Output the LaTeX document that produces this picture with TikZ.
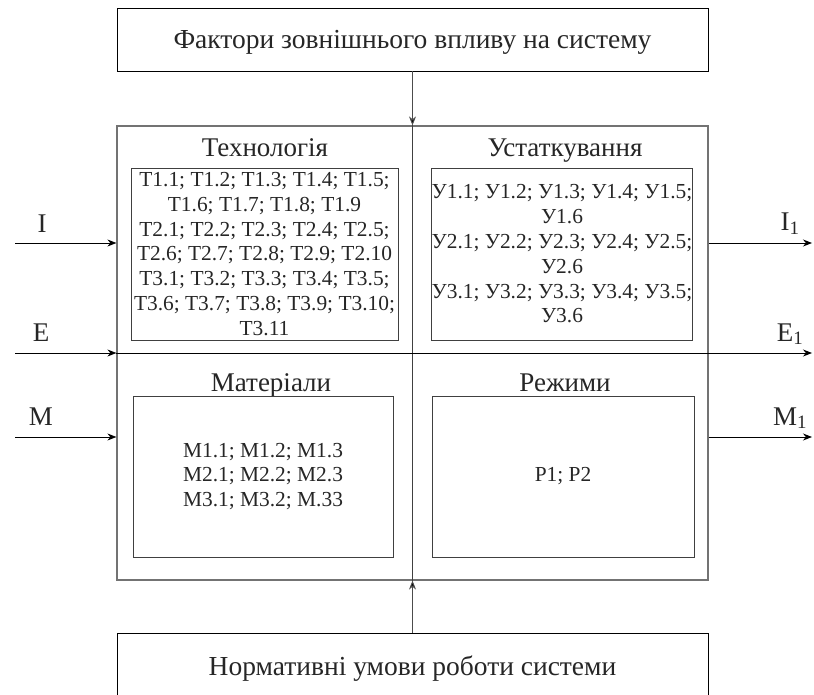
\documentclass[tikz,border=0pt]{standalone}
\usepackage{fontspec}
\setmainfont{Liberation Serif}
\usetikzlibrary{arrows.meta, positioning}

\begin{document}
\begin{tikzpicture}[x=1pt, y=-1pt, >={Stealth[length=9pt,width=7pt]}]
\tikzstyle{every node}+=[inner sep=0pt, text=black!85]
\tikzstyle{factor box}=[draw, line width=0.9pt, minimum width=591pt, minimum height=63pt]
\tikzstyle{factor text}=[anchor=base, font=\fontsize{27.5}{30}\selectfont]
\tikzstyle{item box}=[draw=black!75, line width=0.9pt, align=center, font=\fontsize{21.4}{24.8}\selectfont]
\tikzstyle{part title}=[anchor=base, font=\fontsize{27}{30}\selectfont]
\tikzstyle{flow label}=[anchor=base, font=\fontsize{27}{30}\selectfont]
\tikzstyle{flow}=[->, line width=0.9pt]
\useasboundingbox (0,0) rectangle (814,695);
\node[factor box] (zovn) at (412.5,39.5) {};
\node[factor text] (zovnt) at (412.5,49) {Фактори зовнішнього впливу на систему};
\node[factor box] (norm) at (412.5,665) {};
\node[factor text] (normt) at (412.5,675) {Нормативні умови роботи системи};
\node[draw=black!55, line width=1.2pt, minimum width=591pt, minimum height=454pt] (sys) at (412.5,353) {};
\draw[black!75, line width=0.9pt] (sys.north) -- (sys.south);
\draw[flow, black!70, -{Stealth[length=9pt,width=7pt,fill=black]}] (zovn.south) -- (sys.north);
\draw[flow, black!70, -{Stealth[length=9pt,width=7pt,fill=black]}] (norm.north) -- (sys.south);
\node[part title] (tekh) at (265,157) {Технологія};
\node[part title] (ustat) at (565,157) {Устаткування};
\node[part title] (mater) at (271,391) {Матеріали};
\node[part title] (rezh) at (565,391) {Режими};
\node[item box, minimum width=267pt, minimum height=172pt] (tbox) at (264.5,254) {Т1.1; Т1.2; Т1.3; Т1.4; Т1.5;\\Т1.6; Т1.7; Т1.8; Т1.9\\Т2.1; Т2.2; Т2.3; Т2.4; Т2.5;\\Т2.6; Т2.7; Т2.8; Т2.9; Т2.10\\Т3.1; Т3.2; Т3.3; Т3.4; Т3.5;\\Т3.6; Т3.7; Т3.8; Т3.9; Т3.10;\\Т3.11};
\node[item box, minimum width=260pt, minimum height=172pt] (ubox) at (562,254) {У1.1; У1.2; У1.3; У1.4; У1.5;\\У1.6\\У2.1; У2.2; У2.3; У2.4; У2.5;\\У2.6\\У3.1; У3.2; У3.3; У3.4; У3.5;\\У3.6};
\node[item box, minimum width=260pt, minimum height=161pt] (mbox) at (263,476.5) {М1.1; М1.2; М1.3\\М2.1; М2.2; М2.3\\М3.1; М3.2; М.33};
\node[item box, minimum width=262pt, minimum height=161pt] (rbox) at (563,476.5) {Р1; Р2};
\coordinate (inI) at (15,243);
\coordinate (inE) at (15,353);
\coordinate (inM) at (15,437);
\coordinate (outI) at (812,243);
\coordinate (outE) at (812,353);
\coordinate (outM) at (812,437);
\draw[flow] (inI) -- (inI -| sys.west);
\draw[flow] (inE) -- (inE -| sys.west);
\draw[flow] (inM) -- (inM -| sys.west);
\draw[flow] (inE -| sys.west) -- (outE);
\draw[flow] (outI -| sys.east) -- (outI);
\draw[flow] (outM -| sys.east) -- (outM);
\node[flow label] (lI) at (42,233) {I};
\node[flow label] (lE) at (41,341) {E};
\node[flow label] (lM) at (41,425) {M};
\node[flow label] (lI1) at (790,231) {I\textsubscript{1}};
\node[flow label] (lE1) at (790,341) {E\textsubscript{1}};
\node[flow label] (lM1) at (790,425) {M\textsubscript{1}};
\end{tikzpicture}
\end{document}
